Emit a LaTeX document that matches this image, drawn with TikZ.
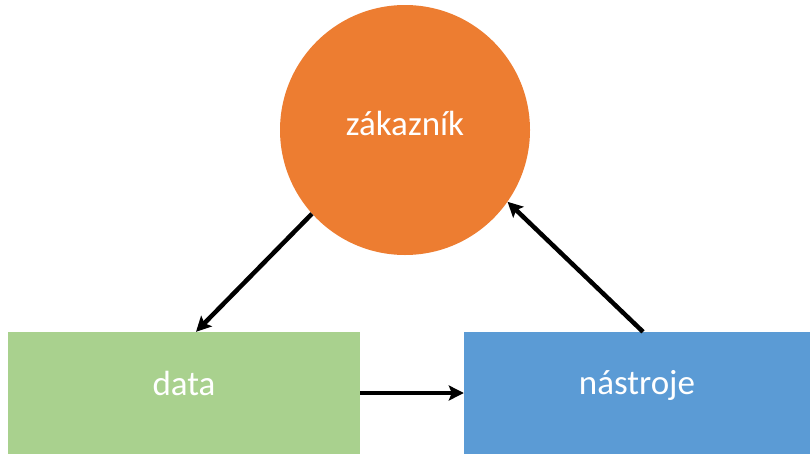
\documentclass[tikz,border=0pt]{standalone}
\usepackage{fontspec}
\setmainfont{Carlito}
\usetikzlibrary{arrows.meta,calc}
\tikzset{box/.style={rectangle, draw=none, minimum height=122pt},
  lbl/.style={anchor=base, text=white, font=\fontsize{35}{40}\selectfont},
  link/.style={black, line width=4.5pt, -{Stealth[length=15pt,width=15pt,inset=3pt]}}}

\begin{document}
\begin{tikzpicture}[x=1pt,y=-1pt]
  \useasboundingbox (0,0) rectangle (810,455);
  \node[circle, fill={rgb,255:red,237;green,125;blue,49}, minimum size=250pt, inner sep=0pt] (cust) at (405,130) {};
  \node[box, fill={rgb,255:red,169;green,209;blue,142}, minimum width=352pt] (data) at (184,393) {};
  \node[box, fill={rgb,255:red,91;green,155;blue,213}, minimum width=346pt] (tools) at (637,393) {};
  \node[lbl] (custtext) at ($(cust.center)+(0,5)$) {zákazník};
  \node[lbl] (datatext) at ($(data.center)+(0,2)$) {data};
  \node[lbl] (toolstext) at ($(tools.center)+(0,1)$) {nástroje};
  \draw[link] (cust.222) -- ($(data.north)+(12,0)$);
  \draw[link] (data.east) -- (tools.west);
  \draw[link] ($(tools.north)+(6,0)$) -- (cust.325);
\end{tikzpicture}
\end{document}
